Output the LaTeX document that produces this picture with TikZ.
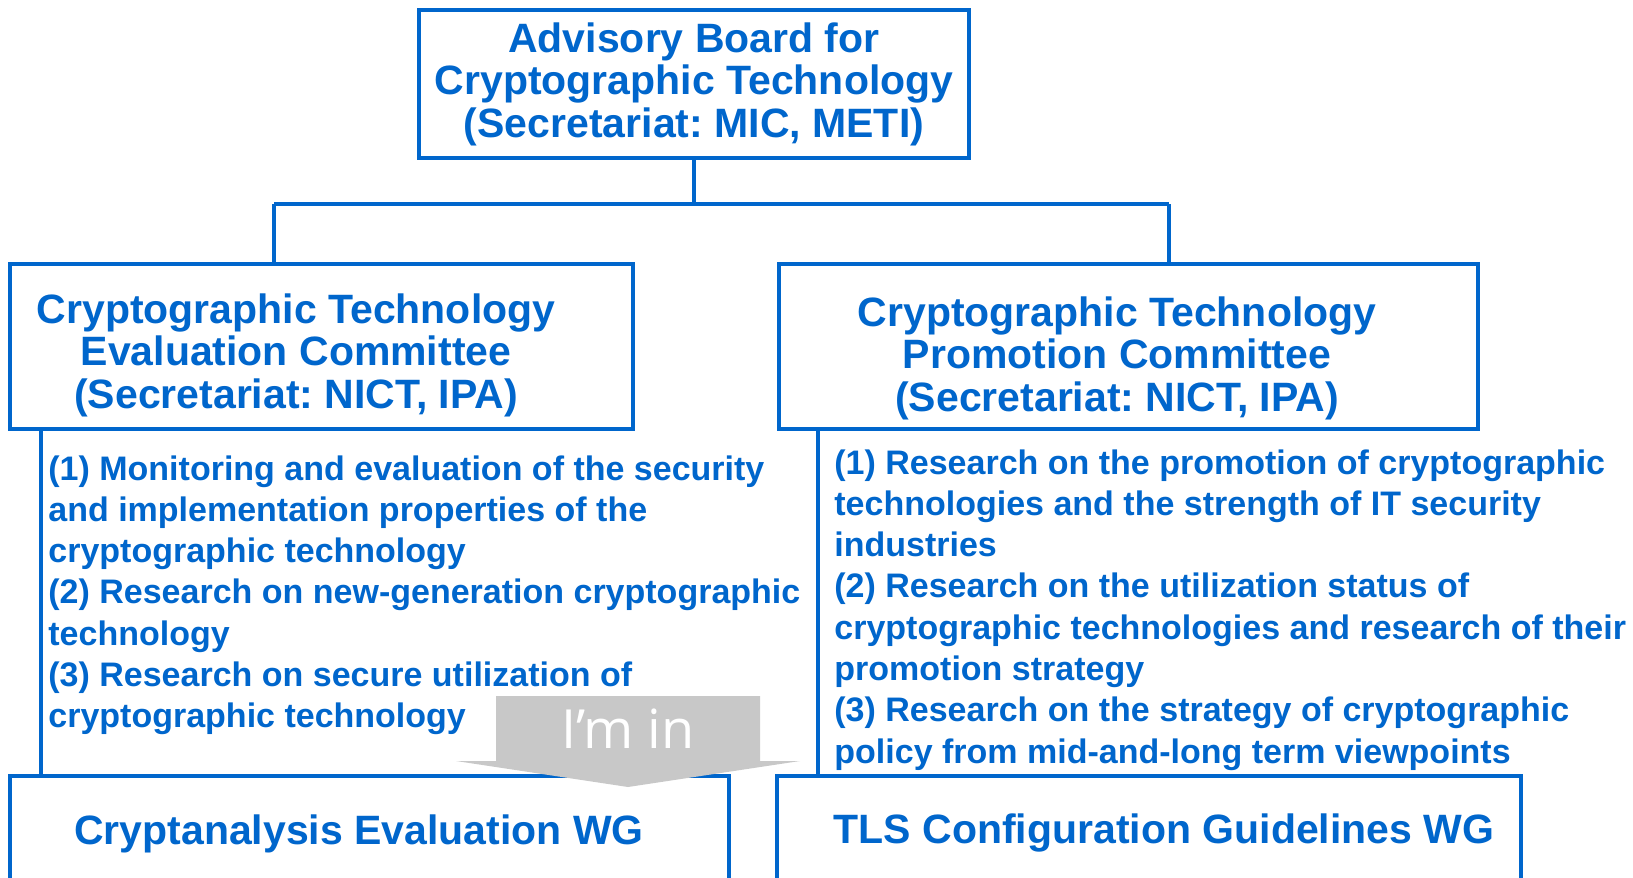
\documentclass[tikz,border=0pt]{standalone}
\usepackage{fontspec}
\setmainfont{Liberation Sans}
\newfontfamily\tagfont{Open Sans}
\usetikzlibrary{positioning,calc}
\definecolor{cryptblue}{HTML}{0066CC}
\definecolor{tipgray}{HTML}{C8C8C8}
\frenchspacing

\begin{document}
\begin{tikzpicture}[x=0.5pt, y=-0.5pt,
  box/.style={draw=cryptblue, line width=2pt, fill=white, inner sep=0pt},
  link/.style={draw=cryptblue, line width=1.6pt},
  head/.style={text=cryptblue, align=center, inner sep=0pt, font=\bfseries\fontsize{20.5}{21.2}\selectfont},
  item/.style={text=cryptblue, align=left, inner sep=0pt, anchor=north west, font=\bfseries\fontsize{17}{20.65}\selectfont}]
\clip (0,0) rectangle (1633,878);

% Board and committees
\node[box, head, minimum width=275pt, minimum height=74pt] (board) at (694,84)
  {Advisory Board for\\Cryptographic Technology\\(Secretariat: MIC, METI)};
\node[box, minimum width=311.5pt, minimum height=82.5pt] (eval) at (321.5,346.5) {};
\node[box, minimum width=349.5pt, minimum height=82.5pt] (promo) at (1128.5,346.5) {};
\node[head] (evaltxt) at (296,355) {Cryptographic Technology\\Evaluation Committee\\(Secretariat: NICT, IPA)};
\node[head] (promotxt) at (1117,358) {Cryptographic Technology\\Promotion Committee\\(Secretariat: NICT, IPA)};

% Working groups
\node[box, minimum width=359.5pt, minimum height=70pt] (cawg) at (369.5,846) {};
\node[box, minimum width=372pt, minimum height=70pt] (tlswg) at (1149,846) {};
\node[head, anchor=base] (cawgtxt) at (359,844) {Cryptanalysis Evaluation WG};
\node[head, anchor=base] (tlswgtxt) at (1164,843) {TLS Configuration Guidelines WG};

% Connectors
\coordinate (busL) at (274,204);
\coordinate (busR) at (1169,204);
\coordinate (evalstem) at (41,429);
\coordinate (promostem) at (818,429);
\draw[link] (board.south) -- (board.south |- busL);
\draw[link] (busL) -- (busR);
\draw[link] (busL) -- (busL |- eval.north);
\draw[link] (busR) -- (busR |- promo.north);
\draw[link] (evalstem) -- (evalstem |- cawg.north);
\draw[link] (promostem) -- (promostem |- tlswg.north);

% Tasks
\node[item] (evaltasks) at (48,455) {(1) Monitoring and evaluation of the security\\
and implementation properties of the\\
cryptographic technology\\
(2) Research on new-generation cryptographic\\
technology\\
(3) Research on secure utilization of\\
cryptographic technology};
\node[item] (promotasks) at (834,449) {(1) Research on the promotion of cryptographic\\
technologies and the strength of IT security\\
industries\\
(2) Research on the utilization status of\\
cryptographic technologies and research of their\\
promotion strategy\\
(3) Research on the strategy of cryptographic\\
policy from mid-and-long term viewpoints};

% I'm in marker
\fill[tipgray] (496,696) -- (760,696) -- (760,761) -- (800,761) -- (628,787)
  -- (456,761) -- (496,761) -- cycle;
\node[text=white, inner sep=0pt, font=\tagfont\fontsize{27}{27}\selectfont] (imin) at (628,729) {I’m in};
\end{tikzpicture}
\end{document}
